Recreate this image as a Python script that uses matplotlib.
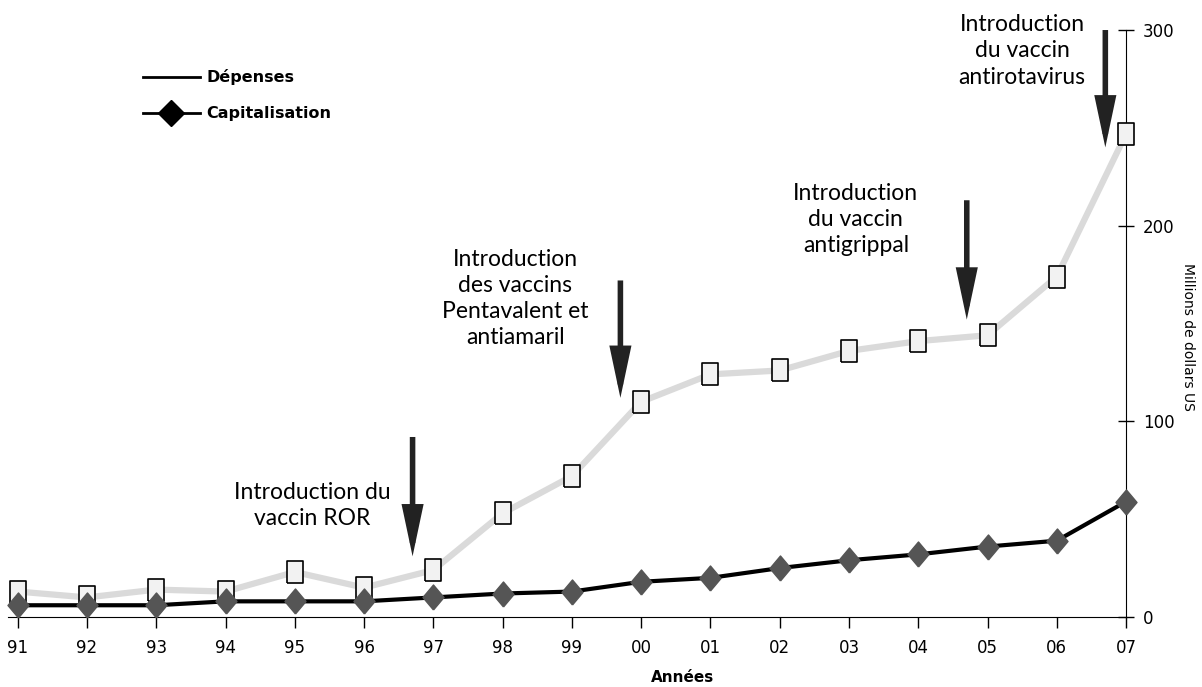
import matplotlib.pyplot as plt
import numpy as np

years = ['91', '92', '93', '94', '95', '96', '97', '98', '99', '00', '01', '02', '03', '04', '05', '06', '07']
depenses = [13, 10, 14, 13, 23, 15, 24, 53, 72, 110, 124, 126, 136, 141, 144, 174, 247]
capitalisation = [6, 6, 6, 8, 8, 8, 10, 12, 13, 18, 20, 25, 29, 32, 36, 39, 59]

# annotations: arrow x (index units), text, arrow top/bottom, text centre x, text top
notes_x = [5.7, 8.7, 13.7, 15.7]
notes_txt = ['Introduction du\nvaccin ROR',
             'Introduction\ndes vaccins\nPentavalent et\nantiamaril',
             'Introduction\ndu vaccin\nantigrippal',
             'Introduction\ndu vaccin\nantirotavirus']
arrow_top = [92, 172, 213, 300]
arrow_bot = [31, 112, 152, 240]
text_x = [4.25, 7.18, 12.1, 14.5]
text_y = [69, 188, 222, 308]

tickfont = 'DejaVu Sans'
txtfont = 'Lato'

fig = plt.figure(figsize=(12.02, 6.87), dpi=100)
ax = fig.add_axes([0.00666, 0.1019, 0.9302, 0.8544])
x = np.arange(len(years))

sq = [(-0.38, -0.5), (0.38, -0.5), (0.38, 0.5), (-0.38, 0.5), (-0.38, -0.5)]
dm = [(0, -0.5), (0.42, 0), (0, 0.5), (-0.42, 0), (0, -0.5)]

ax.plot(x, depenses, color='#dadada', lw=4.5, marker=sq, markersize=16,
        markerfacecolor='#f2f2f2', markeredgecolor='black', markeredgewidth=1.2,
        zorder=2, clip_on=False)
ax.plot(x, capitalisation, color='black', lw=3, marker=dm, markersize=18,
        markerfacecolor='#555555', markeredgecolor='#555555', zorder=3, clip_on=False)

ax.set_xlim(-0.14, 16)
ax.set_ylim(0, 300)
ax.spines['left'].set_visible(False)
ax.spines['top'].set_visible(False)
ax.spines['right'].set_bounds(0, 300)
ax.spines['right'].set_zorder(1)
ax.yaxis.tick_right()
ax.set_yticks([0, 100, 200, 300])
ax.tick_params(axis='y', direction='inout', length=12, width=1, labelsize=12, pad=6)
ax.tick_params(axis='x', direction='out', length=8, width=1, labelsize=12, pad=8)
ax.set_xticks(x)
ax.set_xticklabels(years)
for lab in ax.get_xticklabels() + ax.get_yticklabels():
    lab.set_family(tickfont)
ax.set_xlabel('Années', fontsize=11, fontweight='bold', family=tickfont)
ax.xaxis.set_label_coords(0.603, -0.09)
fig.text(0.988, 0.51, 'Millions de dollars US', rotation=-90, fontsize=10, family=tickfont,
         ha='center', va='center')

for i in range(len(notes_x)):
    ax.annotate('', xy=(notes_x[i], arrow_bot[i]), xytext=(notes_x[i], arrow_top[i]),
                arrowprops=dict(arrowstyle='-|>,head_width=0.55,head_length=2.6',
                                color='#222222', lw=4, shrinkA=0, shrinkB=0,
                                joinstyle='miter', capstyle='butt'))
    ax.text(text_x[i], text_y[i], notes_txt[i], ha='center', va='top', fontsize=16.5,
            family=txtfont, linespacing=1.3)

# legend drawn by hand like the original
fig.add_artist(plt.Line2D([0.119, 0.166], [0.888, 0.888], color='black', lw=2))
fig.text(0.172, 0.888, 'Dépenses', fontsize=11.5, fontweight='bold', family=tickfont, va='center')
fig.add_artist(plt.Line2D([0.119, 0.166], [0.835, 0.835], color='black', lw=2))
fig.add_artist(plt.Line2D([0.1425], [0.835], marker='D', markersize=13, color='black'))
fig.text(0.172, 0.835, 'Capitalisation', fontsize=11.5, fontweight='bold', family=tickfont, va='center')

fig.savefig('out.png', dpi=100)
